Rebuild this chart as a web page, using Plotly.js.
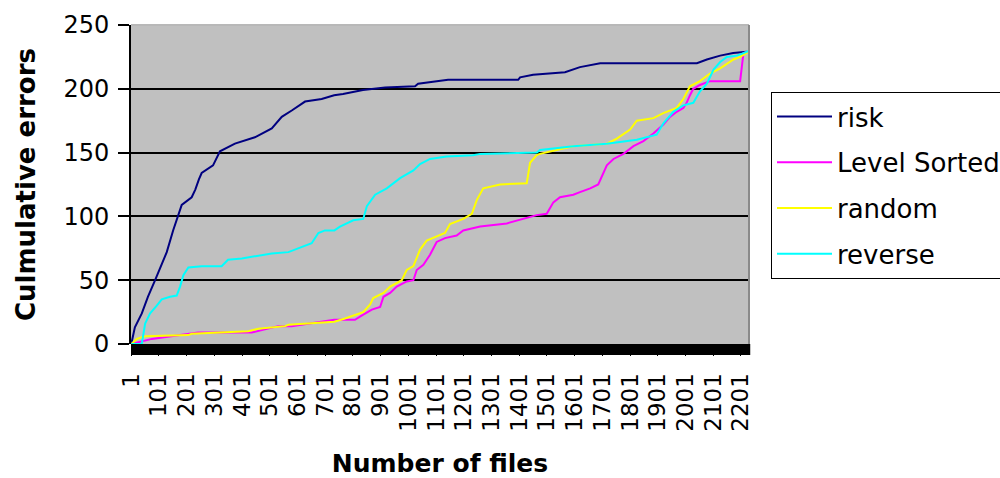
<!DOCTYPE html>
<html>
<head>
<meta charset="utf-8">
<script src="https://cdn.plot.ly/plotly-3.0.1.min.js"></script>
<style>html,body{margin:0;padding:0;background:#fff;}#chart{width:1000px;height:478px;}</style>
</head>
<body>
<div id="chart"></div>
<script>
// Number of files (x) and cumulative errors (y)
const riskFiles = [1,14,39,61,87,105,129,152,170,183,219,232,245,255,296,321,375,447,508,544,580,628,688,733,765,837,917,1025,1036,1115,1144,1397,1404,1451,1566,1620,1693,2042,2078,2126,2173,2222];
const riskErrors = [0,13,24,37,50,60,72,89,101,109,115,121,129,134,140,151,157,162,169,178,183,190,192,195,196,199,201,202,204,206,207,207,209,211,213,217,220,220,223,226,228,229];

const levelFiles = [1,43,75,242,436,531,580,733,808,838,869,899,911,935,959,995,1019,1031,1055,1079,1103,1133,1175,1199,1260,1356,1416,1464,1500,1524,1548,1596,1620,1657,1686,1705,1717,1741,1777,1813,1849,1885,1921,1945,1969,1993,2005,2017,2029,2053,2089,2162,2198,2204,2210,2228];
const levelErrors = [0,2,4,9,9,14,14,19,19,23,27,29,37,40,45,49,50,58,62,70,80,83,85,89,92,94.5,98,101,102,111,115,117,119,122,125,134,140,145,149,155,159,165,172,178,182,185,189,195,200,203,206,206,206,217,228,229];

const randomFiles = [1,21,51,207,219,423,459,556,568,640,734,772,815,838,863,874,911,935,977,995,1019,1043,1067,1103,1133,1151,1199,1230,1248,1271,1332,1428,1440,1464,1476,1595,1717,1753,1801,1825,1885,1921,1969,1993,2017,2053,2089,2126,2174,2198,2228];
const randomErrors = [0,4,6,7,8,10,12,14,15,16,17.5,20,23,25,31,36,40,45,50,58,61,74,81,84,87,94,98,102,113,122,125,126,142,148,149,155,157,161,168,175,177,181,185,192,202,206,212,216,223,225,229];

const reverseFiles = [1,39,51,69,93,111,141,165,177,189,207,255,327,350,400,459,508,568,616,652,676,700,734,754,802,838,851,881,923,971,1019,1043,1079,1139,1234,1260,1464,1476,1596,1717,1825,1897,1921,1957,1993,2029,2053,2078,2102,2126,2150,2186,2210,2228];
const reverseErrors = [0,0,16,24,30,35,37,38,45,54,60,61,61,66,67,69,71,72,76,79,87,89,89,92,97,98,108,117,122,130,136,141,145,147,148,149,150,152,155,157,160,164,173,182,187,189,198,204,215,221,225,226,228,229.6];

const seriesNames = ["risk", "Level Sorted", "random", "reverse"];
const seriesColors = ["#000080", "#FF00FF", "#FFFF00", "#00FFFF"];
const xTickLabels = ["1","101","201","301","401","501","601","701","801","901","1001","1101","1201","1301","1401","1501","1601","1701","1801","1901","2001","2101","2201"];
const yTicks = [0, 50, 100, 150, 200, 250];

const xs = [riskFiles, levelFiles, randomFiles, reverseFiles];
const ys = [riskErrors, levelErrors, randomErrors, reverseErrors];

const traces = seriesNames.map((n, i) => ({
  type: "scatter", mode: "lines", name: n,
  x: xs[i], y: ys[i],
  line: {color: seriesColors[i], width: 2},
  legendgroup: "g" + i
}));

const plotH = 319;
const layout = {
  width: 1000, height: 478,
  margin: {l: 131, r: 251, t: 25, b: 134, autoexpand: false},
  paper_bgcolor: "#ffffff",
  plot_bgcolor: "#C0C0C0",
  font: {family: "DejaVu Sans", size: 23, color: "#000"},
  showlegend: true,
  legend: {
    x: (771 - 131) / 618, xanchor: "left",
    y: (344 - 92) / plotH, yanchor: "top",
    bgcolor: "#ffffff", bordercolor: "#000", borderwidth: 1,
    font: {family: "DejaVu Sans", size: 26, color: "#000"},
    traceorder: "grouped", tracegroupgap: 9, itemwidth: 55
  },
  xaxis: {
    range: [0, 2230], showgrid: false, zeroline: false,
    tickmode: "array", tickvals: xTickLabels.map(Number), ticktext: xTickLabels,
    tickangle: -90, ticks: "outside", ticklen: 11, tickcolor: "#000",
    ticklabelstandoff: 8,
    tickfont: {family: "DejaVu Sans", size: 23, color: "#000"},
    showline: false,
    title: {text: "Number of files", font: {family: "DejaVu Sans", size: 25, color: "#000", weight: "bold"}, standoff: 24}
  },
  yaxis: {
    range: [0, 250], tickmode: "array", tickvals: yTicks,
    showgrid: true, gridcolor: "#000", gridwidth: 2, zeroline: false,
    showline: true, linecolor: "#000", linewidth: 2,
    ticks: "outside", ticklen: 11, tickwidth: 2, tickcolor: "#000",
    ticklabelstandoff: 4,
    tickfont: {family: "DejaVu Sans", size: 24, color: "#000"},
    title: {text: "Culmulative errors", font: {family: "DejaVu Sans", size: 26, color: "#000", weight: "bold"}, standoff: 20}
  },
  shapes: [
    {type: "rect", xref: "paper", yref: "paper", x0: 0, x1: 1.002, y0: -11 / plotH, y1: 0, fillcolor: "#000", line: {width: 0}, layer: "above"},
    {type: "line", xref: "paper", yref: "paper", x0: 0, x1: 1, y0: 1, y1: 1, line: {color: "#b8b8b8", width: 2}, layer: "above"},
    {type: "line", xref: "paper", yref: "paper", x0: 1, x1: 1, y0: 0, y1: 1, line: {color: "#8a8a8a", width: 2}, layer: "above"}
  ]
};

Plotly.newPlot("chart", traces, layout, {displayModeBar: false, staticPlot: true});
</script>
</body>
</html>
